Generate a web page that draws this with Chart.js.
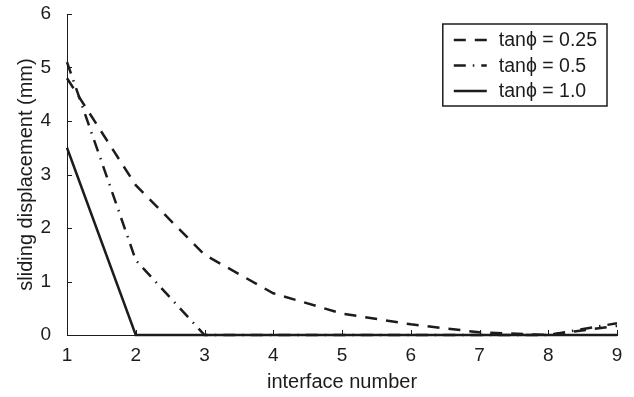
<!DOCTYPE html>
<html lang="en">
<head>
    <meta charset="UTF-8">
    <title>Sliding displacement</title>
    <style>
        body {
            margin: 0;
            background: #ffffff;
        }

        #wrap {
            width: 634px;
            height: 397px;
        }
    </style>
    <script src="https://cdn.jsdelivr.net/npm/chart.js"></script>
</head>
<body>

    <div id="wrap">
        <canvas id="slidingChart"></canvas>
    </div>

    <script>
        // interface number along the x axis
        var interfaceNumbers = [1, 2, 3, 4, 5, 6, 7, 8, 9];

        // sliding displacement (mm) for each friction coefficient
        var slideTan025 = [4.8, 2.8, 1.5, 0.78, 0.4, 0.2, 0.05, 0, 0.17];
        var slideTan05 = [5.1, 1.4, 0, 0, 0, 0, 0, 0, 0.22];
        var slideTan10 = [3.5, 0, 0, 0, 0, 0, 0, 0, 0];

        var seriesLabels = ['tan\u03d5 = 0.25', 'tan\u03d5 = 0.5', 'tan\u03d5 = 1.0'];

        var yTickValues = [0, 1, 2, 3, 4, 5, 6];
        var xTickValues = [1, 2, 3, 4, 5, 6, 7, 8, 9];

        var ink = '#1c1c1c';
        var fontFamily = '"Liberation Sans", Arial, sans-serif';

        function toPoints(values) {
            return values.map(function (v, i) {
                return { x: interfaceNumbers[i], y: v };
            });
        }

        // short tick marks pointing into the plot
        var innerTicks = {
            id: 'innerTicks',
            afterDraw: function (chart) {
                var ctx = chart.ctx;
                var area = chart.chartArea;
                var xs = chart.scales.x;
                var ys = chart.scales.y;
                ctx.save();
                ctx.strokeStyle = ink;
                ctx.lineWidth = 1;
                ctx.beginPath();
                yTickValues.forEach(function (v) {
                    var py = Math.round(ys.getPixelForValue(v)) + 0.5;
                    ctx.moveTo(area.left, py);
                    ctx.lineTo(area.left + 5, py);
                });
                xTickValues.forEach(function (v) {
                    var px = Math.round(xs.getPixelForValue(v)) + 0.5;
                    ctx.moveTo(px, area.bottom);
                    ctx.lineTo(px, area.bottom - 5);
                });
                ctx.stroke();
                ctx.restore();
            }
        };

        // boxed legend in the upper right corner of the plot
        var boxLegend = {
            id: 'boxLegend',
            afterDraw: function (chart) {
                var ctx = chart.ctx;
                var area = chart.chartArea;
                ctx.save();
                ctx.font = '19.5px ' + fontFamily;
                var maxText = 0;
                seriesLabels.forEach(function (t) {
                    maxText = Math.max(maxText, ctx.measureText(t).width);
                });
                var padL = 11, sample = 33, gap = 12, padR = 10;
                var rowH = 25.5;
                var w = padL + sample + gap + maxText + padR;
                var h = 82;
                var right = area.right - 10;
                var left = right - w;
                var top = area.top + 10;

                ctx.fillStyle = '#ffffff';
                ctx.fillRect(left, top, w, h);
                ctx.strokeStyle = ink;
                ctx.lineWidth = 1.5;
                ctx.strokeRect(left, top, w, h);

                chart.data.datasets.forEach(function (ds, i) {
                    var y = top + 16 + i * rowH;
                    ctx.beginPath();
                    ctx.setLineDash(ds.borderDash || []);
                    ctx.lineWidth = ds.borderWidth;
                    ctx.strokeStyle = ds.borderColor;
                    ctx.moveTo(left + padL, y);
                    ctx.lineTo(left + padL + sample, y);
                    ctx.stroke();
                    ctx.setLineDash([]);
                    ctx.fillStyle = ink;
                    ctx.textBaseline = 'middle';
                    ctx.fillText(seriesLabels[i], left + padL + sample + gap, y + 1);
                });
                ctx.restore();
            }
        };

        var ctx = document.getElementById('slidingChart').getContext('2d');
        var slidingChart = new Chart(ctx, {
            type: 'line',
            data: {
                datasets: [
                    {
                        label: seriesLabels[0],
                        data: toPoints(slideTan025),
                        borderColor: ink,
                        borderWidth: 2.5,
                        borderDash: [12, 9],
                        pointRadius: 0,
                        tension: 0,
                        clip: false
                    },
                    {
                        label: seriesLabels[1],
                        data: toPoints(slideTan05),
                        borderColor: ink,
                        borderWidth: 2.5,
                        borderDash: [12, 7, 1.5, 7],
                        pointRadius: 0,
                        tension: 0,
                        clip: false
                    },
                    {
                        label: seriesLabels[2],
                        data: toPoints(slideTan10),
                        borderColor: ink,
                        borderWidth: 2.5,
                        pointRadius: 0,
                        tension: 0,
                        clip: false
                    }
                ]
            },
            options: {
                responsive: true,
                maintainAspectRatio: false,
                animation: false,
                layout: {
                    padding: { top: 14, right: 17, left: 14, bottom: 0 }
                },
                plugins: {
                    legend: { display: false },
                    tooltip: { enabled: false }
                },
                scales: {
                    x: {
                        type: 'linear',
                        min: 1,
                        max: 9,
                        afterBuildTicks: function (scale) {
                            scale.ticks = xTickValues.map(function (v) { return { value: v }; });
                        },
                        grid: { display: false },
                        border: { display: true, color: ink, width: 1 },
                        ticks: {
                            color: ink,
                            padding: 1,
                            maxRotation: 0,
                            font: { family: fontFamily, size: 19 }
                        },
                        title: {
                            display: true,
                            text: 'interface number',
                            color: ink,
                            padding: { top: 4, bottom: 3 },
                            font: { family: fontFamily, size: 20 }
                        },
                        afterFit: function (scale) {
                            scale.height = 62;
                            scale.paddingLeft = 0;
                            scale.paddingRight = 0;
                        }
                    },
                    y: {
                        type: 'linear',
                        min: 0,
                        max: 6,
                        afterBuildTicks: function (scale) {
                            scale.ticks = yTickValues.map(function (v) { return { value: v }; });
                        },
                        grid: { display: false },
                        border: { display: true, color: ink, width: 1 },
                        ticks: {
                            color: ink,
                            padding: 8,
                            font: { family: fontFamily, size: 19 }
                        },
                        title: {
                            display: true,
                            text: 'sliding displacement (mm)',
                            color: ink,
                            padding: { top: 0, bottom: 4 },
                            font: { family: fontFamily, size: 20 }
                        },
                        afterFit: function (scale) {
                            scale.width = 53;
                            scale.paddingTop = 0;
                            scale.paddingBottom = 0;
                        }
                    }
                }
            },
            plugins: [innerTicks, boxLegend]
        });
    </script>

</body>
</html>
